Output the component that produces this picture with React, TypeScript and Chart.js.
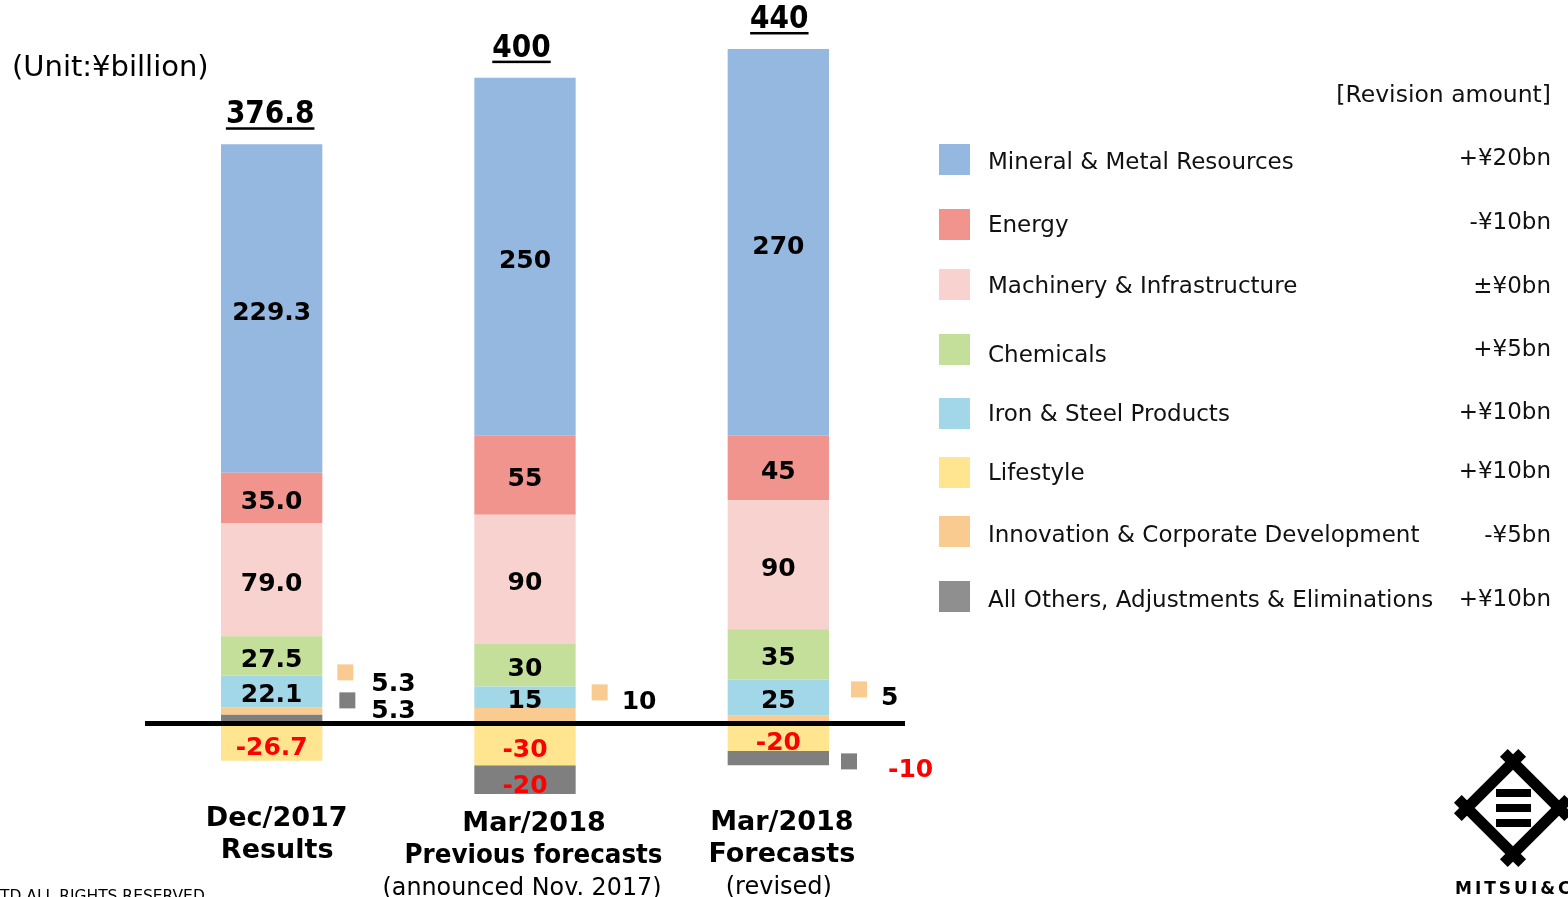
import React, { useEffect, useRef } from "react";
import { Chart, registerables } from "chart.js";

Chart.register(...registerables);

// ---------------- data ----------------
const categoryLines: string[][] = [
  ["Dec/2017", "Results"],
  ["Mar/2018", "Previous forecasts", "(announced Nov. 2017)"],
  ["Mar/2018", "Forecasts", "(revised)"],
];
const valueDecimals = [1, 0, 0];

const mineral = [229.3, 250, 270];
const energy = [35.0, 55, 45];
const machinery = [79.0, 90, 90];
const chemicals = [27.5, 30, 35];
const ironSteel = [22.1, 15, 25];
const lifestyle = [-26.7, -30, -20];
const innovation = [5.3, 10, 5];
const others = [5.3, -20, -10];

const seriesNames = [
  "Mineral & Metal Resources",
  "Energy",
  "Machinery & Infrastructure",
  "Chemicals",
  "Iron & Steel Products",
  "Lifestyle",
  "Innovation & Corporate Development",
  "All Others, Adjustments & Eliminations",
];
const revisionLabels = ["+¥20bn", "-¥10bn", "±¥0bn", "+¥5bn", "+¥10bn", "+¥10bn", "-¥5bn", "+¥10bn"];

// ---------------- styles ----------------
const seriesValues = [mineral, energy, machinery, chemicals, ironSteel, lifestyle, innovation, others];
const barColors = ["#95B8E1", "#F1948D", "#F8D2CE", "#C3DF9A", "#A1D7E6", "#FFE58F", "#F9CB91", "#7F7F7F"];
const legendColors = ["#95B8E1", "#F1948D", "#F8D2CE", "#C3DF9A", "#A1D7E6", "#FFE58F", "#F9CB91", "#8F8F8F"];
// stacking order (nearest the zero line first)
const stackOrder = [5, 7, 6, 4, 3, 2, 1, 0];

const FONT = "'DejaVu Sans', Verdana, sans-serif";

// legend layout
const legendRowY = [159.5, 224.5, 284.5, 349.5, 413.5, 472.5, 531.5, 596.5];
const legendTextY = [161, 224, 285, 354, 413, 472, 534, 599];
const legendValueY = [157, 221, 285, 348, 411, 470, 534, 598];

// category label layout: line x offsets from bar centre, first-line y
const catLineDx = [[5, 5.5], [9, 8.5, -3], [3.5, 3.5, 0.5]];
const catStartY = [816, 821, 820];
const totalDx = [-1.5, -3.5, 1];

// small segments labelled outside the bar: [series, category, squareDx, squareDy, textDx, textDy]
const outsideLabels: [number, number, number, number, number, number][] = [
  [6, 0, 23, -50, 49, -41],
  [7, 0, 25, -22, 49, -14],
  [6, 1, 24, -30, 46, -23],
  [6, 2, 30, -33, 52, -27],
  [7, 2, 20, 39, 59, 45],
];

function fmt(v: number, cat: number) {
  return v.toFixed(valueDecimals[cat]);
}

function drawTextCY(
  ctx: CanvasRenderingContext2D,
  text: string,
  x: number,
  cy: number,
  size: number,
  weight: string,
  align: CanvasTextAlign,
  color: string,
  maxWidth?: number
) {
  ctx.font = `${weight} ${size}px ${FONT}`;
  ctx.textAlign = align;
  ctx.textBaseline = "alphabetic";
  ctx.fillStyle = color;
  if (maxWidth) ctx.fillText(text, x, cy + size * 0.365, maxWidth);
  else ctx.fillText(text, x, cy + size * 0.365);
}

const overlayPlugin = {
  id: "overlay",
  afterDatasetsDraw(chart: any) {
    const ctx: CanvasRenderingContext2D = chart.ctx;
    const area = chart.chartArea;
    const y = chart.scales.y;
    const zero = y.getPixelForValue(0);
    ctx.save();

    // zero line
    ctx.strokeStyle = "#000";
    ctx.lineWidth = 5;
    ctx.beginPath();
    ctx.moveTo(area.left, zero + 1);
    ctx.lineTo(area.right, zero + 1);
    ctx.stroke();

    const elementFor = (s: number, c: number) => {
      const dsIndex = stackOrder.indexOf(s);
      return chart.getDatasetMeta(dsIndex).data[c];
    };

    // inside labels
    for (let s = 0; s < seriesValues.length; s++) {
      for (let c = 0; c < 3; c++) {
        const el = elementFor(s, c);
        const v = seriesValues[s][c];
        const h = Math.abs(el.base - el.y);
        if (h < 20) continue;
        const cy = (el.base + el.y) / 2 + (v < 0 ? 4 : 2);
        drawTextCY(ctx, fmt(v, c), el.x, cy, 25, "bold", "center", v < 0 ? "#FF0000" : "#000");
      }
    }

    // outside labels with squares
    for (const [s, c, sdx, sdy, tdx, tdy] of outsideLabels) {
      const el = elementFor(s, c);
      const right = el.x + el.width / 2;
      ctx.fillStyle = barColors[s];
      ctx.fillRect(right + sdx - 8, zero + sdy - 8, 16, 16);
      const v = seriesValues[s][c];
      drawTextCY(ctx, fmt(v, c), right + tdx, zero + tdy, 25, "bold", "left", v < 0 ? "#FF0000" : "#000");
    }

    // totals
    for (let c = 0; c < 3; c++) {
      let total = 0;
      let top = Infinity;
      for (let s = 0; s < seriesValues.length; s++) {
        total += seriesValues[s][c];
        const el = elementFor(s, c);
        top = Math.min(top, el.y, el.base);
      }
      const text = fmt(total, c);
      const cx = elementFor(0, c).x + totalDx[c];
      const base = top - 21;
      ctx.save();
      ctx.translate(cx, base);
      ctx.scale(1, 1.16);
      ctx.font = `bold 28px ${FONT}`;
      ctx.textAlign = "center";
      ctx.textBaseline = "alphabetic";
      ctx.fillStyle = "#000";
      ctx.fillText(text, 0, 0);
      ctx.restore();
      ctx.font = `bold 28px ${FONT}`;
      const w = ctx.measureText(text).width;
      ctx.fillStyle = "#000";
      ctx.fillRect(cx - w / 2, base + 4, w, 2.5);
    }

    // category labels
    for (let c = 0; c < 3; c++) {
      const bx = elementFor(0, c).x;
      const lines = categoryLines[c];
      lines.forEach((ln, i) => {
        const cy = catStartY[c] + i * 32.5;
        const cx = bx + catLineDx[c][i];
        if (i < 2) drawTextCY(ctx, ln, cx, cy, 27, "bold", "center", "#000", ln.length > 12 ? 258 : undefined);
        else drawTextCY(ctx, ln, cx, cy, 24, "normal", "center", "#000", 279);
      });
    }

    // unit
    drawTextCY(ctx, "(Unit:¥billion)", 12, 65, 29, "normal", "left", "#000");
    drawTextCY(ctx, "[Revision amount]", 1551, 93, 23.5, "normal", "right", "#111");

    // legend
    for (let s = 0; s < seriesNames.length; s++) {
      ctx.fillStyle = legendColors[s];
      ctx.fillRect(939, legendRowY[s] - 15.5, 31, 31);
      drawTextCY(ctx, seriesNames[s], 988, legendTextY[s], 23, "normal", "left", "#111");
      drawTextCY(ctx, revisionLabels[s], 1551, legendValueY[s], 23, "normal", "right", "#111");
    }

    // copyright (cut at page bottom)
    ctx.font = `normal 15.5px ${FONT}`;
    ctx.textAlign = "left";
    ctx.textBaseline = "alphabetic";
    ctx.fillStyle = "#000";
    ctx.fillText("TD ALL RIGHTS RESERVED", 0, 901);

    // logo
    const lx = 1513, ly = 808, r = 46, ext = 13;
    ctx.strokeStyle = "#000";
    ctx.lineWidth = 11;
    ctx.lineCap = "butt";
    const verts = [
      [lx, ly - r],
      [lx + r, ly],
      [lx, ly + r],
      [lx - r, ly],
    ];
    for (let i = 0; i < 4; i++) {
      const a = verts[i];
      const b = verts[(i + 1) % 4];
      const len = Math.hypot(b[0] - a[0], b[1] - a[1]);
      const dx = (b[0] - a[0]) / len;
      const dy = (b[1] - a[1]) / len;
      ctx.beginPath();
      ctx.moveTo(a[0] - dx * ext, a[1] - dy * ext);
      ctx.lineTo(b[0] + dx * ext, b[1] + dy * ext);
      ctx.stroke();
    }
    ctx.fillStyle = "#000";
    ctx.fillRect(1496, 789, 35, 8);
    ctx.fillRect(1496, 804, 35, 8);
    ctx.fillRect(1496, 819, 35, 8);
    ctx.font = `bold 17px ${FONT}`;
    (ctx as any).letterSpacing = "3px";
    ctx.textAlign = "left";
    ctx.fillText("MITSUI&CO", 1455, 894);
    (ctx as any).letterSpacing = "0px";

    ctx.restore();
  },
};

export default function App() {
  const ref = useRef<HTMLCanvasElement>(null);
  useEffect(() => {
    const canvas = ref.current!;
    const chart = new Chart(canvas, {
      type: "bar",
      data: {
        labels: categoryLines.map((l) => l.join(" ")),
        datasets: stackOrder.map((s) => ({
          label: seriesNames[s],
          data: seriesValues[s],
          backgroundColor: barColors[s],
          borderWidth: 0,
          barPercentage: 0.4,
          categoryPercentage: 1,
        })),
      },
      options: {
        responsive: false,
        animation: false,
        events: [],
        layout: { padding: { left: 145, right: 663, top: 6, bottom: 60 } },
        plugins: { legend: { display: false }, tooltip: { enabled: false } },
        scales: {
          x: { stacked: true, display: false },
          y: { stacked: true, display: false, min: -80, max: 500 },
        },
      },
      plugins: [overlayPlugin],
    });
    return () => chart.destroy();
  }, []);
  return (
    <canvas
      ref={ref}
      width={1568}
      height={897}
      style={{ position: "absolute", left: 0, top: 0, width: 1568, height: 897, display: "block" }}
    />
  );
}
